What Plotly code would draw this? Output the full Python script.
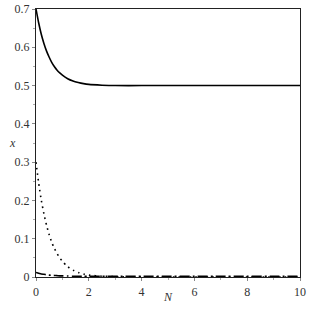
import plotly.graph_objects as go

N = [0, 0.1, 0.2, 0.3, 0.4, 0.5, 0.6, 0.7, 0.8, 0.9, 1.0, 1.2, 1.4, 1.6, 1.8, 2.0, 2.5, 3, 4, 5, 6, 7, 8, 9, 10]
x_solid = [0.7, 0.664, 0.634, 0.610, 0.590, 0.574, 0.560, 0.549, 0.540, 0.533, 0.527, 0.518, 0.512,
           0.508, 0.505, 0.503, 0.501, 0.5, 0.5, 0.5, 0.5, 0.5, 0.5, 0.5, 0.5]
x_dot = [0.3, 0.246, 0.201, 0.165, 0.135, 0.110, 0.090, 0.074, 0.061, 0.050, 0.041, 0.027, 0.018,
         0.012, 0.008, 0.005, 0.002, 0.001, 0, 0, 0, 0, 0, 0, 0]
x_dashdot = [0.012, 0.010, 0.008, 0.007, 0.006, 0.005, 0.0045, 0.004, 0.0035, 0.003, 0.003, 0.0025, 0.002,
             0.002, 0.002, 0.002, 0.002, 0.002, 0.002, 0.002, 0.002, 0.002, 0.002, 0.002, 0.002]

y_ticks = [0, 0.1, 0.2, 0.3, 0.4, 0.5, 0.6, 0.7]
y_labels = ["0", "0.1", "0.2", "0.3", "0.4", "0.5", "0.6", "0.7"]
x_ticks = [0, 2, 4, 6, 8, 10]
x_labels = ["0", "2", "4", "6", "8", "10"]

SERIF = "Times New Roman"
tickfont = dict(family=SERIF, size=12, color="#333")

fig = go.Figure()
fig.add_trace(go.Scatter(x=N, y=x_solid, mode="lines", line=dict(color="black", width=1.6, shape="spline", smoothing=0.6)))
fig.add_trace(go.Scatter(x=N, y=x_dot, mode="lines", line=dict(color="black", width=1.6, dash="1.6px,4px", shape="spline", smoothing=0.6)))
fig.add_trace(go.Scatter(x=N, y=x_dashdot, mode="lines", line=dict(color="black", width=1.6, dash="10px,3px,2px,3px", shape="spline", smoothing=0.6)))

fig.update_layout(
    width=309, height=309, showlegend=False,
    margin=dict(l=36, r=9, t=9, b=32, autoexpand=False),
    paper_bgcolor="white", plot_bgcolor="white",
    font=dict(family=SERIF, size=12, color="#333"),
    annotations=[
        dict(text="<i>N</i>", xref="paper", yref="paper", x=0.5, y=-0.074, yanchor="middle",
             showarrow=False, font=dict(family=SERIF, size=12, color="#333")),
        dict(text="<i>x</i>", xref="paper", yref="paper", x=-0.09, y=0.5, xanchor="center",
             showarrow=False, font=dict(family=SERIF, size=12, color="#333")),
    ],
)
fig.update_xaxes(range=[0, 10], tickvals=x_ticks, ticktext=x_labels, showgrid=False, zeroline=False,
                 automargin=False, tickfont=tickfont,
                 showline=True, linecolor="#222", linewidth=1.2, mirror=True,
                 ticks="outside", ticklen=3, tickcolor="#888",
                 minor=dict(ticks="outside", ticklen=2, tickcolor="#aaa", dtick=1))
fig.update_yaxes(range=[0, 0.7], tickvals=y_ticks, ticktext=y_labels, showgrid=False, zeroline=False,
                 automargin=False, tickfont=tickfont,
                 showline=True, linecolor="#222", linewidth=1.2, mirror=True,
                 ticks="outside", ticklen=3, tickcolor="#888",
                 minor=dict(ticks="outside", ticklen=2, tickcolor="#aaa", dtick=0.05))
fig.write_html("out.html", config={"displayModeBar": False},
               post_script="document.body.style.margin='0';")
